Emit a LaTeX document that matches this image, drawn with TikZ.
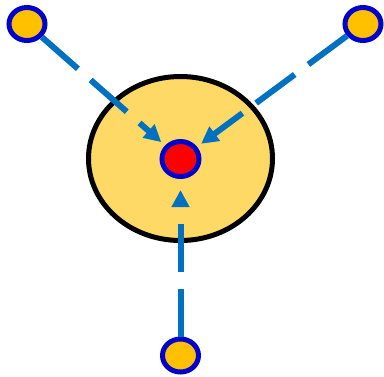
\documentclass[tikz,border=0pt]{standalone}
\usetikzlibrary{shapes.geometric,arrows.meta}

\definecolor{cellfill}{HTML}{FFD966}
\definecolor{satfill}{HTML}{FFC000}
\definecolor{ringblue}{HTML}{0000CC}
\definecolor{linkblue}{HTML}{0070C0}

\tikzset{
  cell/.style={ellipse, draw=black, line width=5pt, fill=cellfill,
    minimum width=184pt, minimum height=164pt, inner sep=0pt},
  sat/.style={ellipse, draw=ringblue, line width=5pt, fill=satfill,
    minimum width=36pt, minimum height=33pt, inner sep=0pt},
  core/.style={sat, fill=red, minimum width=37pt, minimum height=35pt},
  link/.style={linkblue, line width=6pt, dash pattern=on 48pt off 17pt,
    -{Triangle[length=17pt,width=17pt]}}
}

\begin{document}
\begin{tikzpicture}[x=1pt,y=-1pt]
    % --- frame ---
    \useasboundingbox (0,0) rectangle (384,376);

    % --- cell and core ---
    \node[cell] (body) at (180.5,158.5) {};
    \node[core] (hub) at (180.5,159) {};

    % --- outer nodes ---
    \node[sat] (srcL) at (27,24) {};
    \node[sat] (srcR) at (363,24) {};
    \node[sat] (srcB) at (180.5,355.5) {};

    % --- dashed links into the core ---
    \draw[link, shorten >=5pt] (srcL) -- (hub);
    \draw[link, shorten >=5pt] (srcR) -- (hub);
    \draw[link, shorten >=11pt] (srcB) -- (hub);
\end{tikzpicture}
\end{document}
